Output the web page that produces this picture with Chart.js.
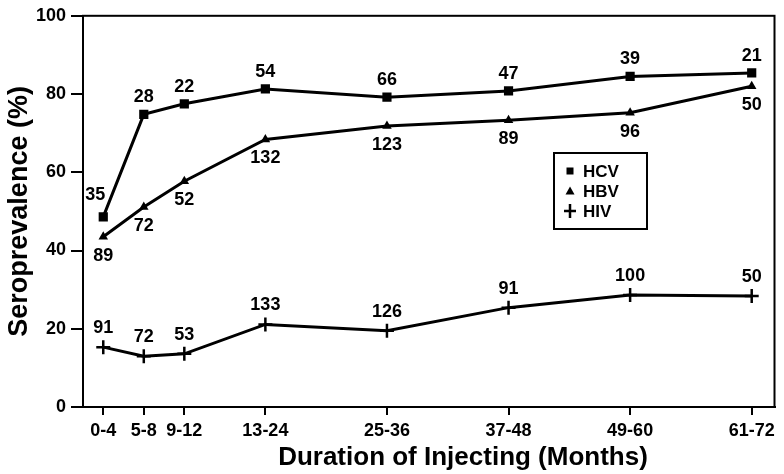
<!DOCTYPE html>
<html><head><meta charset="utf-8">
<script src="https://cdn.jsdelivr.net/npm/chart.js@4/dist/chart.umd.min.js"></script>
<style>html,body{margin:0;padding:0;background:#fff}#wrap{width:784px;height:474px}</style>
</head><body><div id="wrap"><canvas id="c" width="784" height="474"></canvas></div>
<script>
// ---- data ----
const categories = ['0-4','5-8','9-12','13-24','25-36','37-48','49-60','61-72'];
const monthPositions = [2, 6, 10, 18, 30, 42, 54, 66];
const hcv = [48.6, 74.8, 77.5, 81.3, 79.2, 80.8, 84.5, 85.4];
const hbv = [43.5, 51.1, 57.7, 68.4, 71.8, 73.3, 75.2, 82.0];
const hiv = [15.3, 13.0, 13.6, 21.1, 19.5, 25.4, 28.6, 28.4];
const hcvN = [35, 28, 22, 54, 66, 47, 39, 21];
const hbvN = [89, 72, 52, 132, 123, 89, 96, 50];
const hivN = [91, 72, 53, 133, 126, 91, 100, 50];
const yTicks = [0, 20, 40, 60, 80, 100];
const seriesNames = ['HCV', 'HBV', 'HIV'];
const xTitle = 'Duration of Injecting (Months)';
const yTitle = 'Seroprevalence (%)';

const FONT = '"Liberation Sans", Arial, Helvetica, sans-serif';
const pts = arr => monthPositions.map((x, i) => ({x: x, y: arr[i]}));

const labelPlugin = {
  id: 'annot',
  afterDraw(chart) {
    const ctx = chart.ctx;
    const ca = chart.chartArea;
    ctx.save();
    // frame
    ctx.strokeStyle = '#000';
    ctx.lineWidth = 2;
    ctx.strokeRect(ca.left, ca.top, ca.right - ca.left, ca.bottom - ca.top);
    // sample-size labels
    ctx.fillStyle = '#000';
    ctx.font = 'bold 18px ' + FONT;
    ctx.textAlign = 'center';
    ctx.textBaseline = 'middle';
    chart.data.datasets.forEach((ds, di) => {
      const meta = chart.getDatasetMeta(di);
      const off = ds.labelOffset;
      meta.data.forEach((el, j) => {
        let dx = 0, dy = off;
        if (ds.firstOffset && j === 0) { dx = ds.firstOffset[0]; dy = ds.firstOffset[1]; }
        ctx.fillText(String(ds.counts[j]), el.x + dx, el.y + dy);
      });
    });
    // legend
    const bx = 554, by = 153, bw = 93, bh = 76;
    ctx.fillStyle = '#fff';
    ctx.fillRect(bx, by, bw, bh);
    ctx.strokeStyle = '#000';
    ctx.lineWidth = 2;
    ctx.strokeRect(bx, by, bw, bh);
    ctx.font = 'bold 17px ' + FONT;
    ctx.textAlign = 'left';
    ctx.fillStyle = '#000';
    chart.data.datasets.forEach((ds, di) => {
      const cy = 171 + di * 20, mx = 570;
      ctx.beginPath();
      if (ds.pointStyle === 'rect') {
        ctx.fillRect(mx - 3.5, cy - 3.5, 7, 7);
      } else if (ds.pointStyle === 'triangle') {
        ctx.moveTo(mx, cy - 4.5); ctx.lineTo(mx + 4.5, cy + 3.5); ctx.lineTo(mx - 4.5, cy + 3.5); ctx.closePath(); ctx.fill();
      } else {
        ctx.lineWidth = 2.5;
        ctx.moveTo(mx - 6, cy); ctx.lineTo(mx + 6, cy);
        ctx.moveTo(mx, cy - 7); ctx.lineTo(mx, cy + 7); ctx.stroke();
      }
      ctx.fillText(ds.label, 583, cy + 1);
    });
    // x title
    ctx.font = 'bold 26px ' + FONT;
    ctx.textAlign = 'center';
    ctx.textBaseline = 'middle';
    ctx.fillText(xTitle, 463, 458);
    ctx.restore();
  }
};

const common = {borderColor: '#000', backgroundColor: '#000', borderWidth: 3, tension: 0,
  pointBorderColor: '#000', pointBackgroundColor: '#000'};

new Chart(document.getElementById('c'), {
  type: 'line',
  data: {
    datasets: [
      Object.assign({}, common, {label: seriesNames[0], data: pts(hcv), counts: hcvN, pointStyle: 'rect', pointRadius: 6.5, pointBorderWidth: 0, labelOffset: -17, firstOffset: [-8, -22]}),
      Object.assign({}, common, {label: seriesNames[1], data: pts(hbv), counts: hbvN, pointStyle: 'triangle', pointRadius: 5.5, pointBorderWidth: 0, labelOffset: 19}),
      Object.assign({}, common, {label: seriesNames[2], data: pts(hiv), counts: hivN, pointStyle: 'cross', pointRadius: 7, pointBorderWidth: 2.5, labelOffset: -19})
    ]
  },
  options: {
    responsive: false,
    animation: false,
    events: [],
    layout: {padding: {top: 12, right: 4, left: 0, bottom: 0}},
    plugins: {legend: {display: false}, tooltip: {enabled: false}},
    scales: {
      x: {
        type: 'linear', min: 0, max: 68.25,
        afterBuildTicks: s => { s.ticks = monthPositions.map(v => ({value: v})); },
        afterFit: s => { s.height = 67; },
        ticks: {
          callback: v => categories[monthPositions.indexOf(v)],
          font: {family: FONT, size: 18, weight: 'bold'}, color: '#000',
          maxRotation: 0, autoSkip: false, padding: 5
        },
        grid: {drawOnChartArea: false, drawTicks: true, tickLength: 8, color: '#000', lineWidth: 2},
        border: {display: true, color: '#000', width: 2}
      },
      y: {
        min: 0, max: 100,
        afterBuildTicks: s => { s.ticks = yTicks.map(v => ({value: v})); },
        afterFit: s => { s.width = 83; },
        ticks: {font: {family: FONT, size: 18, weight: 'bold'}, color: '#000', padding: 5},
        grid: {drawOnChartArea: false, drawTicks: true, tickLength: 12, color: '#000', lineWidth: 2},
        border: {display: true, color: '#000', width: 2},
        title: {display: true, text: yTitle, color: '#000', font: {family: FONT, size: 27, weight: 'bold'}, padding: {top: 3, bottom: 0}}
      }
    }
  },
  plugins: [labelPlugin]
});
</script>
</body></html>
